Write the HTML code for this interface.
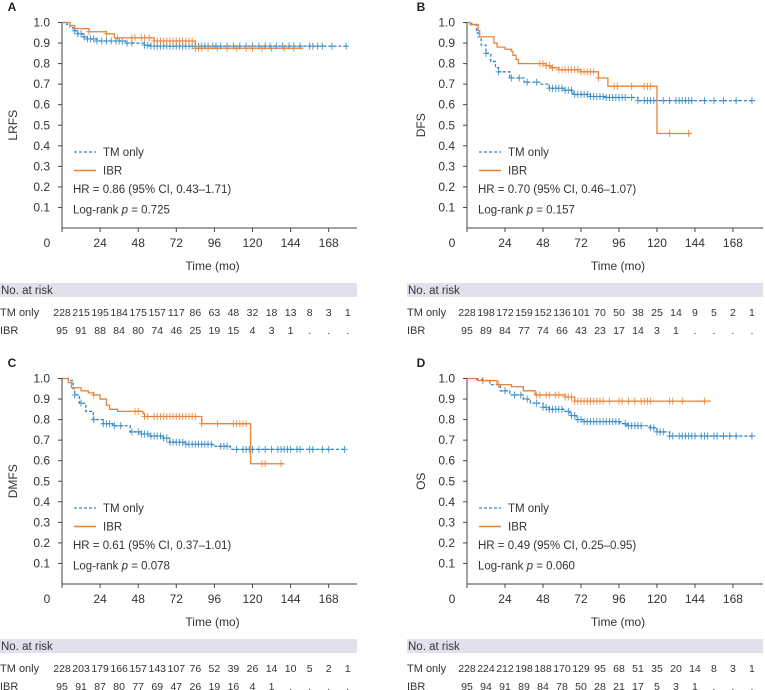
<!DOCTYPE html>
<html><head><meta charset="utf-8"><style>
html,body{margin:0;padding:0;background:#fff;}
svg{display:block;font-family:"Liberation Sans",sans-serif;}
</style></head><body>
<svg id="chart" width="765" height="690" viewBox="0 0 765 690" xmlns="http://www.w3.org/2000/svg"></svg>
<script>
// ---- data ----
const xTicks = [0,24,48,72,96,120,144,168];
const yTicks = [0.1,0.2,0.3,0.4,0.5,0.6,0.7,0.8,0.9,1.0];
const riskTimes = [0,12,24,36,48,60,72,84,96,108,120,132,144,156,168,180];

// Panel A (LRFS)
const aTmSteps = [[0,1],[3,0.99],[5,0.975],[7,0.96],[10,0.945],[13,0.93],[16,0.92],[22,0.91],[40,0.9],[52,0.89],[56,0.885]];
const aTmEnd = 180;
const aTmCens = [8,10,12,14,16,18,20,22,25,28,31,34,36,38,41,44,52,54,56,58,60,62,64,66,68,70,72,74,76,78,80,82,84,86,88,90,92,95,97,100,104,108,112,116,120,124,128,131,135,139,143,146,150,156,158,161,164,170,179];
const aIbrSteps = [[0,1],[5,0.985],[8,0.97],[17,0.955],[28,0.945],[33,0.925],[58,0.91],[84,0.875]];
const aIbrEnd = 152;
const aIbrCens = [17,28,35,44,46,50,52,55,58,60,62,64,66,68,70,72,74,76,78,80,82,84,86,88,92,98,104,110,116,120,126,132,140,146];
const aTmRisk = [228,215,195,184,175,157,117,86,63,48,32,18,13,8,3,1];
const aIbrRisk = ["95","91","88","84","80","74","46","25","19","15","4","3","1",".",".","."];

// Panel B (DFS)
const bTmSteps = [[0,1],[3,0.99],[6,0.95],[7,0.93],[9,0.89],[12,0.85],[15,0.81],[18,0.78],[20,0.76],[27,0.73],[36,0.71],[46,0.70],[52,0.68],[61,0.67],[67,0.65],[78,0.64],[88,0.635],[108,0.62]];
const bTmEnd = 182;
const bTmCens = [12,20,28,33,38,44,52,54,56,58,60,62,64,66,68,70,72,74,76,78,80,82,84,86,88,90,92,94,96,98,100,104,108,112,114,116,118,120,124,128,132,134,136,138,140,142,150,156,162,170,180];
const bIbrSteps = [[0,1],[2,0.99],[7,0.96],[8,0.93],[17,0.9],[19,0.88],[24,0.87],[28,0.86],[29,0.84],[31,0.82],[32.5,0.8],[50,0.79],[53,0.78],[58,0.77],[72,0.76],[83,0.73],[89,0.69],[120,0.46]];
const bIbrEnd = 142;
const bIbrCens = [46,48,50,52,54,58,60,62,64,66,68,70,72,74,76,78,80,83,93,95,104,112,114,116,128,140];
const bTmRisk = [228,198,172,159,152,136,101,70,50,38,25,14,9,5,2,1];
const bIbrRisk = ["95","89","84","77","74","66","43","23","17","14","3","1",".",".",".","."];

// Panel C (DMFS)
const cTmSteps = [[0,1],[4,0.99],[7,0.95],[8,0.92],[11,0.88],[15,0.84],[19.7,0.8],[26,0.78],[32,0.77],[43,0.74],[50,0.73],[55,0.72],[64,0.71],[68,0.69],[78,0.68],[95,0.67],[106,0.655]];
const cTmEnd = 179;
const cTmCens = [8,12,20,26,28,30,33,37,44,48,50,52,54,56,58,60,62,64,66,68,70,72,74,76,78,80,82,84,86,88,90,92,94,100,102,104,110,114,116,118,120,124,128,132,136,138,140,142,144,148,150,156,158,164,168,178];
const cIbrSteps = [[0,1],[4,0.98],[6,0.955],[12,0.94],[16.6,0.93],[20,0.92],[24,0.9],[28,0.87],[30,0.85],[35,0.84],[51,0.83],[52,0.815],[88,0.78],[118.8,0.585]];
const cIbrEnd = 140;
const cIbrCens = [20,46,48,52,54,58,60,62,64,66,68,70,72,74,76,78,80,82,84,88,98,108,110,112,114,116,126,128,138];
const cTmRisk = [228,203,179,166,157,143,107,76,52,39,26,14,10,5,2,1];
const cIbrRisk = ["95","91","87","80","77","69","47","26","19","16","4","1",".",".",".","."];

// Panel D (OS)
const dTmSteps = [[0,1],[6,0.995],[10,0.99],[14.5,0.97],[21,0.94],[27,0.92],[35.6,0.9],[40,0.88],[48,0.86],[52,0.85],[61,0.84],[65,0.82],[69,0.8],[73.5,0.79],[96.6,0.78],[101,0.77],[115.6,0.76],[120,0.74],[128,0.72]];
const dTmEnd = 182;
const dTmCens = [10,24,30,34,38,44,48,50,52,54,56,58,60,64,66,68,70,72,74,76,78,80,82,84,86,88,90,92,94,96,100,102,104,106,108,110,116,118,120,122,124,128,130,134,136,138,140,142,144,148,150,152,156,158,162,166,170,180];
const dIbrSteps = [[0,1],[7,0.99],[19,0.97],[28,0.96],[35.6,0.94],[43,0.92],[62,0.91],[68,0.89]];
const dIbrEnd = 154;
const dIbrCens = [20,44,46,50,52,56,58,62,64,66,68,70,72,74,76,78,80,82,84,86,90,96,98,102,106,110,112,114,116,128,130,136,150];
const dTmRisk = [228,224,212,198,188,170,129,95,68,51,35,20,14,8,3,1];
const dIbrRisk = ["95","94","91","89","84","78","50","28","21","17","5","3","1",".",".","."];

const BLUE = "#2f86c6", ORANGE = "#e8843a", TXT = "#333";
const svg = document.getElementById('chart');
const NS = "http://www.w3.org/2000/svg";
function mk(tag, attrs, parent){
  const e = document.createElementNS(NS, tag);
  for (const k in attrs) e.setAttribute(k, attrs[k]);
  (parent||svg).appendChild(e);
  return e;
}
function txt(str, attrs, parent){
  const e = mk('text', attrs, parent); e.textContent = str; return e;
}

const panels = [
  {id:'a', letter:'A', ylab:'LRFS', x0:62, left:0, dy:0, k:1.5875, axisEnd:357, lx:12,
   tm:aTmSteps, tmEnd:aTmEnd, tmC:aTmCens, ib:aIbrSteps, ibEnd:aIbrEnd, ibC:aIbrCens, tmR:aTmRisk, ibR:aIbrRisk,
   hr:'HR = 0.86 (95% CI, 0.43–1.71)', p:'0.725'},
  {id:'b', letter:'B', ylab:'DFS', x0:467, left:407, dy:0, k:1.583, axisEnd:763, lx:421,
   tm:bTmSteps, tmEnd:bTmEnd, tmC:bTmCens, ib:bIbrSteps, ibEnd:bIbrEnd, ibC:bIbrCens, tmR:bTmRisk, ibR:bIbrRisk,
   hr:'HR = 0.70 (95% CI, 0.46–1.07)', p:'0.157'},
  {id:'c', letter:'C', ylab:'DMFS', x0:62, left:0, dy:356, k:1.5875, axisEnd:357, lx:12,
   tm:cTmSteps, tmEnd:cTmEnd, tmC:cTmCens, ib:cIbrSteps, ibEnd:cIbrEnd, ibC:cIbrCens, tmR:cTmRisk, ibR:cIbrRisk,
   hr:'HR = 0.61 (95% CI, 0.37–1.01)', p:'0.078'},
  {id:'d', letter:'D', ylab:'OS', x0:467, left:407, dy:356, k:1.583, axisEnd:763, lx:421,
   tm:dTmSteps, tmEnd:dTmEnd, tmC:dTmCens, ib:dIbrSteps, ibEnd:dIbrEnd, ibC:dIbrCens, tmR:dTmRisk, ibR:dIbrRisk,
   hr:'HR = 0.49 (95% CI, 0.25–0.95)', p:'0.060'}
];

function stepAt(steps, t){
  let s = steps[0][1];
  for (const st of steps){ if (st[0] <= t) s = st[1]; }
  return s;
}

panels.forEach(P => {
  const g = mk('g', {});
  
  
  const X = t => P.x0 + t * P.k;
  const Y = s => P.dy + 228 - s * 205.5;
  const base = P.dy + 228;

  const lt = txt(P.letter, {x:P.lx, y:P.dy+11, 'font-size':12, 'font-weight':'bold', fill:'#222', 'text-anchor':'middle'}, g);
  
  

  const ax = mk('path', {d:`M${P.x0},${Y(1)} V${base+4} M${P.x0},${base} H${P.axisEnd}`, stroke:'#444', 'stroke-width':1, fill:'none'}, g);
  
  
  yTicks.forEach(v => {
    const tk = mk('line', {x1:P.x0-4, x2:P.x0, y1:Y(v), y2:Y(v), stroke:'#444', 'stroke-width':1}, g);
    
    
    const tl = txt(v.toFixed(1), {x:P.x0-12, y:Y(v)+4, 'font-size':12, fill:TXT, 'text-anchor':'end'}, g);
    
    
  });
  xTicks.forEach(v => {
    const tk = mk('line', {x1:X(v), x2:X(v), y1:base, y2:base+4, stroke:'#444', 'stroke-width':1}, g);
    
    
    const tl = txt(String(v), {x: v===0 ? X(v)-15 : X(v), y:base+19, 'font-size':12, fill:TXT, 'text-anchor':'middle'}, g);
    
    
  });
  const xt = txt('Time (mo)', {x:(P.x0+P.axisEnd)/2+3, y:base+42, 'font-size':12, fill:TXT, 'text-anchor':'middle'}, g);
  
  
  const yx = P.left === 0 ? 17 : P.x0 - 42;
  const yt = txt(P.ylab, {x:yx, y:Y(0.5), 'font-size':12, fill:TXT, 'text-anchor':'middle', transform:`rotate(-90 ${yx} ${Y(0.5)})`}, g);
  
  

  function curve(steps, end, cens, color, dash, name){
    let d = `M${X(steps[0][0])},${Y(steps[0][1])}`;
    for (let i=1;i<steps.length;i++){
      d += ` H${X(steps[i][0]).toFixed(2)} V${Y(steps[i][1]).toFixed(2)}`;
    }
    d += ` H${X(end).toFixed(2)}`;
    const p = mk('path', {d, stroke:color, 'stroke-width':1.3, fill:'none', 'stroke-dasharray':dash||'none'}, g);
    
    
    let cd = '';
    cens.forEach(t => {
      const cx = X(t), cy = Y(stepAt(steps, t));
      cd += `M${cx.toFixed(2)},${(cy-3.5).toFixed(2)} V${(cy+3.5).toFixed(2)} M${(cx-3).toFixed(2)},${cy.toFixed(2)} H${(cx+3).toFixed(2)} `;
    });
    const cm = mk('path', {d:cd, stroke:color, 'stroke-width':1, fill:'none', opacity:0.85}, g);
    
    
  }
  curve(P.tm, P.tmEnd, P.tmC, BLUE, '3,2', 'tm-only');
  curve(P.ib, P.ibEnd, P.ibC, ORANGE, null, 'ibr');

  const lgx = P.x0 + 12;
  const l1 = mk('line', {x1:lgx, x2:lgx+22, y1:Y(0.37), y2:Y(0.37), stroke:BLUE, 'stroke-width':1.3, 'stroke-dasharray':'3,2'}, g);
  
  
  const t1 = txt('TM only', {x:lgx+29, y:Y(0.37)+4, 'font-size':11.5, fill:TXT}, g);
  
  
  const l2 = mk('line', {x1:lgx, x2:lgx+22, y1:Y(0.28), y2:Y(0.28), stroke:ORANGE, 'stroke-width':1.5}, g);
  
  
  const t2 = txt('IBR', {x:lgx+29, y:Y(0.28)+4, 'font-size':11.5, fill:TXT}, g);
  
  
  const hr = txt(P.hr, {x:lgx-1, y:Y(0.19)+4, 'font-size':11.5, fill:TXT}, g);
  
  
  const pv = mk('text', {x:lgx-1, y:Y(0.09)+4, 'font-size':11.5, fill:TXT}, g);
  pv.innerHTML = 'Log-rank <tspan font-style="italic">p</tspan> = ' + P.p;
  
  

  const band = mk('rect', {x:P.left, y:P.dy+283, width:P.axisEnd-P.left, height:14, fill:'#e3e0ee'}, g);
  
  
  const rh = txt('No. at risk', {x:P.left+1, y:P.dy+294, 'font-size':11.5, fill:TXT}, g);
  
  
  const r1 = txt('TM only', {x:P.left, y:P.dy+316, 'font-size':11, fill:TXT}, g);
  
  
  const r2 = txt('IBR', {x:P.left, y:P.dy+334, 'font-size':11, fill:TXT}, g);
  
  
  riskTimes.forEach((t,i) => {
    const a = txt(String(P.tmR[i]), {x:X(t), y:P.dy+316, 'font-size':10.5, fill:TXT, 'text-anchor':'middle'}, g);
    
    
    const b = txt(String(P.ibR[i]), {x:X(t), y:P.dy+334, 'font-size':10.5, fill:TXT, 'text-anchor':'middle'}, g);
    
    
  });
});
</script>
</body></html>
